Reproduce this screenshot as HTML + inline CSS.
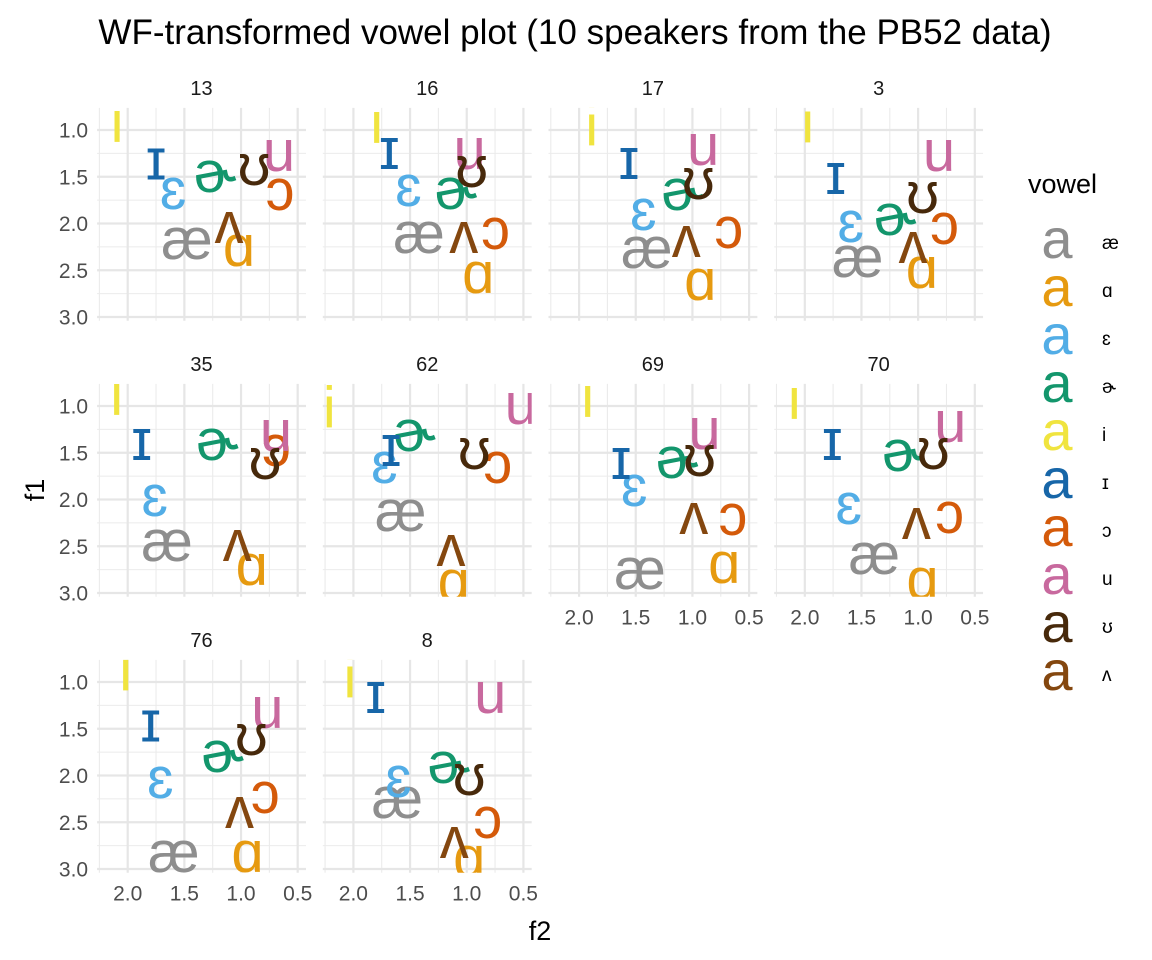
<!DOCTYPE html>
<html><head><meta charset="utf-8">
<style>
body{margin:0;background:#fff;}
svg{display:block;font-family:"Liberation Sans","DejaVu Sans",sans-serif;}
</style></head>
<body>
<svg id="chart" width="1152" height="960" viewBox="0 0 1152 960" xmlns="http://www.w3.org/2000/svg">
<rect width="1152" height="960" fill="#fff"/>
<text x="575" y="44" font-size="35" text-anchor="middle" fill="#000">WF-transformed vowel plot (10 speakers from the PB52 data)</text>
<text x="540" y="940" font-size="27" text-anchor="middle" fill="#000">f2</text>
<text x="0" y="0" font-size="27" text-anchor="middle" fill="#000" transform="translate(44,490) rotate(-90)">f1</text>
<g id="panels"></g>
<g id="legend"></g>
</svg>
<script>
const speakers = ["13","16","17","3","35","62","69","70","76","8"];
const vowels = ["æ","ɑ","ɛ","ɚ","i","ɪ","ɔ","u","ʊ","ʌ"];
const colors = ["#8e8e8e","#e69a10","#52ade6","#13966c","#f0e43f","#1766a8","#d45a0a","#c8699e","#47290b","#84470f"];
const xTicks = [2.0,1.5,1.0,0.5];
const yTicks = [1.0,1.5,2.0,2.5,3.0];
// f2 values per speaker, order of vowels array
const f2 = [
 [1.477,1.018,1.600,1.229,2.094,1.750,0.656,0.665,0.885,1.106],
 [1.421,0.898,1.515,1.096,1.794,1.683,0.746,0.974,0.956,1.026],
 [1.403,0.931,1.433,1.087,1.889,1.560,0.679,0.906,0.948,1.054],
 [1.533,0.967,1.595,1.204,1.974,1.727,0.767,0.816,0.961,1.045],
 [1.653,0.905,1.762,1.209,2.097,1.876,0.688,0.691,0.788,1.033],
 [1.583,1.114,1.727,1.462,2.213,1.668,0.726,0.523,0.933,1.139],
 [1.462,0.719,1.514,1.136,1.924,1.630,0.643,0.893,0.937,0.988],
 [1.387,0.961,1.613,1.131,2.093,1.757,0.722,0.716,0.866,1.016],
 [1.593,0.943,1.712,1.163,2.018,1.797,0.786,0.768,0.909,1.013],
 [1.613,0.978,1.604,1.159,2.030,1.803,0.814,0.792,0.978,1.110]
];
const f1 = [
 [2.219,2.294,1.684,1.503,0.968,1.369,1.695,1.278,1.428,2.048],
 [2.155,2.583,1.652,1.684,0.979,1.257,2.112,1.257,1.449,2.155],
 [2.316,2.658,1.909,1.695,1.005,1.364,2.102,1.214,1.578,2.198],
 [2.412,2.529,2.037,1.963,0.973,1.524,2.059,1.278,1.727,2.262],
 [2.497,2.754,2.016,1.417,0.936,1.417,1.481,1.321,1.620,2.497],
 [2.176,2.925,1.663,1.321,1.070,1.481,1.663,1.032,1.513,2.551],
 [2.797,2.733,1.909,1.610,0.955,1.620,2.219,1.299,1.588,2.209],
 [2.636,2.904,2.102,1.535,0.979,1.417,2.198,1.225,1.513,2.262],
 [2.872,2.872,2.080,1.802,0.930,1.476,2.241,1.332,1.620,2.401],
 [2.294,2.925,2.070,1.920,1.005,1.171,2.508,1.171,2.048,2.722]
];

const NS="http://www.w3.org/2000/svg";
const XMIN=2.27, XMAX=0.427, YMIN=0.763, YMAX=3.04;
const PXU=113.33, PYU=93.5;
function colX(c){return 127.7+225.7*c;}
function rowY(r){return 130+276*r;}
function sx(c,v){return colX(c)+(2-v)*PXU;}
function sy(r,v){return rowY(r)+(v-1)*PYU;}
function mk(tag,attrs,parent){const e=document.createElementNS(NS,tag);for(const k in attrs)e.setAttribute(k,attrs[k]);parent.appendChild(e);return e;}

const panels=document.getElementById('panels');
const svg=document.getElementById('chart');
const defs=mk('defs',{},svg);
const FS=58;
speakers.forEach((sp,s)=>{
  const c=s%4, r=Math.floor(s/4);
  const L=sx(c,XMIN), R=sx(c,XMAX), T=sy(r,YMIN), B=sy(r,YMAX);
  const cp=mk('clipPath',{id:'clip'+s},defs);
  mk('rect',{x:L,y:T,width:R-L,height:B-T},cp);
  const g=mk('g',{},panels);
  
  
  [2.25,1.75,1.25,0.75].forEach(v=>{const l=mk('line',{x1:sx(c,v),x2:sx(c,v),y1:T,y2:B,stroke:'#ebebeb','stroke-width':1.1},g);
    });
  [1.25,1.75,2.25,2.75].forEach(v=>{const l=mk('line',{x1:L,x2:R,y1:sy(r,v),y2:sy(r,v),stroke:'#ebebeb','stroke-width':1.1},g);
    });
  xTicks.forEach(v=>{const l=mk('line',{x1:sx(c,v),x2:sx(c,v),y1:T,y2:B,stroke:'#e6e6e6','stroke-width':2.2},g);
    });
  yTicks.forEach(v=>{const l=mk('line',{x1:L,x2:R,y1:sy(r,v),y2:sy(r,v),stroke:'#e6e6e6','stroke-width':2.2},g);
    });
  const st=mk('text',{x:(L+R)/2,y:T-13,'font-size':20,'text-anchor':'middle',fill:'#1a1a1a'},g);
  st.textContent=sp;
  
  
  if(c===0){yTicks.forEach(v=>{const t=mk('text',{x:L-9,y:sy(r,v)+7.5,'font-size':21,'text-anchor':'end',fill:'#4d4d4d'},g);
    t.textContent=v.toFixed(1);
    
    });}
  if(s+4>=speakers.length){xTicks.forEach(v=>{const t=mk('text',{x:sx(c,v),y:B+28,'font-size':21,'text-anchor':'middle',fill:'#4d4d4d'},g);
    t.textContent=v.toFixed(1);
    
    });}
  const lg=mk('g',{'clip-path':'url(#clip'+s+')'},g);
  vowels.forEach((v,i)=>{
    const t=mk('text',{x:sx(c,f2[s][i]),y:sy(r,f1[s][i])+15,'font-size':FS,'text-anchor':'middle',fill:colors[i]},lg);
    t.textContent=v;
    
    
  });
});
const leg=document.getElementById('legend');
const lt=mk('text',{x:1028,y:193,'font-size':27,fill:'#000'},leg);
lt.textContent='vowel';


vowels.forEach((v,i)=>{
  const by=258+48*i;
  const k=mk('text',{x:1057,y:by,'font-size':56,'text-anchor':'middle',fill:colors[i]},leg);
  k.textContent='a';
  
  
  const t=mk('text',{x:1102,y:by-9,'font-size':19,fill:'#000'},leg);
  t.textContent=v;
  
  
});
</script>
</body></html>
